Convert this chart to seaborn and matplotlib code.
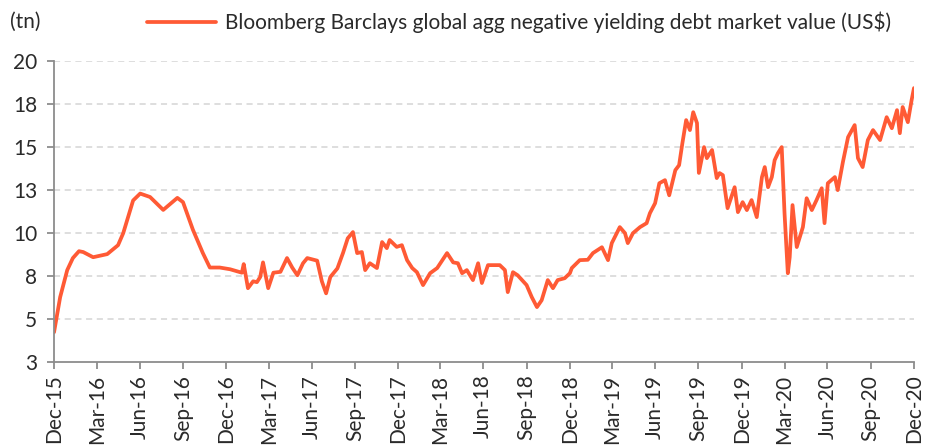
import pandas as pd
import seaborn as sns
import matplotlib.pyplot as plt
import matplotlib.dates as mdates

# values (US$ tn)
dates = [
    "2015-12-31", "2016-01-13", "2016-01-28", "2016-02-09", "2016-02-22", "2016-03-02",
    "2016-03-23", "2016-04-22", "2016-05-15", "2016-05-26", "2016-06-16", "2016-07-01",
    "2016-07-22", "2016-08-19", "2016-09-18", "2016-09-30", "2016-10-21", "2016-11-11",
    "2016-11-26", "2016-12-17", "2017-01-08", "2017-02-02", "2017-02-06", "2017-02-15",
    "2017-02-26", "2017-03-06", "2017-03-13", "2017-03-19", "2017-03-30", "2017-04-10",
    "2017-04-25", "2017-05-09", "2017-05-20", "2017-05-31", "2017-06-12", "2017-06-21",
    "2017-07-12", "2017-07-22", "2017-07-31", "2017-08-09", "2017-08-24", "2017-09-05",
    "2017-09-15", "2017-09-26", "2017-10-05", "2017-10-15", "2017-10-22", "2017-11-01",
    "2017-11-16", "2017-11-27", "2017-12-07", "2017-12-13", "2017-12-28", "2018-01-08",
    "2018-01-19", "2018-01-30", "2018-02-09", "2018-02-22", "2018-03-09", "2018-03-24",
    "2018-04-14", "2018-04-27", "2018-05-07", "2018-05-16", "2018-05-26", "2018-06-08",
    "2018-06-19", "2018-06-27", "2018-07-10", "2018-08-04", "2018-08-15", "2018-08-21",
    "2018-09-01", "2018-09-11", "2018-09-30", "2018-10-11", "2018-10-22", "2018-11-01",
    "2018-11-14", "2018-11-25", "2018-12-05", "2018-12-20", "2018-12-31", "2019-01-04",
    "2019-01-21", "2019-02-07", "2019-02-18", "2019-03-09", "2019-03-22", "2019-03-30",
    "2019-04-16", "2019-04-27", "2019-05-03", "2019-05-14", "2019-05-29", "2019-06-12",
    "2019-06-19", "2019-06-30", "2019-07-09", "2019-07-21", "2019-07-30", "2019-08-12",
    "2019-08-20", "2019-08-27", "2019-09-04", "2019-09-12", "2019-09-19", "2019-09-27",
    "2019-10-01", "2019-10-12", "2019-10-18", "2019-10-29", "2019-11-08", "2019-11-14",
    "2019-11-21", "2019-12-01", "2019-12-16", "2019-12-23", "2020-01-02", "2020-01-11",
    "2020-01-21", "2020-02-01", "2020-02-12", "2020-02-18", "2020-02-25", "2020-03-04",
    "2020-03-10", "2020-03-17", "2020-03-25", "2020-03-31", "2020-04-07", "2020-04-11",
    "2020-04-17", "2020-04-26", "2020-05-09", "2020-05-17", "2020-05-28", "2020-06-07",
    "2020-06-18", "2020-06-24", "2020-07-01", "2020-07-16", "2020-07-22", "2020-08-02",
    "2020-08-13", "2020-08-27", "2020-09-03", "2020-09-13", "2020-09-24", "2020-10-05",
    "2020-10-20", "2020-11-03", "2020-11-14", "2020-11-25", "2020-12-01", "2020-12-07",
    "2020-12-18", "2020-12-26", "2020-12-31",
]
market_value = [
    4.24, 6.28, 7.85, 8.55, 8.95, 8.9,
    8.6, 8.78, 9.3, 10.0, 11.9, 12.3,
    12.1, 11.35, 12.05, 11.8, 10.2, 8.85,
    8.0, 8.0, 7.9, 7.7, 8.2, 6.8,
    7.2, 7.15, 7.45, 8.3, 6.8, 7.7,
    7.75, 8.55, 8.0, 7.55, 8.25, 8.55,
    8.4, 7.2, 6.5, 7.45, 7.95, 8.85,
    9.7, 10.06, 8.84, 8.9, 7.85, 8.25,
    7.97, 9.48, 9.13, 9.6, 9.2, 9.3,
    8.43, 7.97, 7.73, 6.98, 7.67, 7.97,
    8.84, 8.3, 8.25, 7.67, 7.85, 7.27,
    8.25, 7.1, 8.14, 8.14, 7.85, 6.57,
    7.73, 7.55, 6.98, 6.28, 5.7, 6.1,
    7.27, 6.8, 7.27, 7.38, 7.67, 7.97,
    8.43, 8.45, 8.84, 9.18, 8.43, 9.42,
    10.35, 10.0, 9.42, 10.0, 10.35, 10.58,
    11.16, 11.74, 12.9, 13.08, 12.2, 13.66,
    13.95, 15.23, 16.57, 15.99, 17.03, 16.4,
    13.5, 15.0, 14.36, 14.83, 13.2, 13.49,
    13.37, 11.45, 12.67, 11.22, 11.8, 11.34,
    11.92, 10.93, 13.26, 13.84, 12.67, 13.26,
    14.24, 14.65, 15.0, 11.16, 7.67, 8.6,
    11.63, 9.19, 10.35, 12.03, 11.34, 11.92,
    12.61, 10.58, 12.9, 13.26, 12.5, 14.13,
    15.58, 16.28, 14.36, 13.84, 15.41, 15.99,
    15.41, 16.74, 16.1, 17.15, 15.81, 17.33,
    16.45, 17.73, 18.43,
]
y_ticks = [2.5, 5, 7.5, 10, 12.5, 15, 17.5, 20]
y_tick_labels = ["3", "5", "8", "10", "13", "15", "18", "20"]
series_name = "Bloomberg Barclays global agg negative yielding debt market value (US$)"

df = pd.DataFrame({"date": pd.to_datetime(dates), "value": market_value})

sns.set_style("white")
plt.rcParams["font.family"] = ["Lato", "DejaVu Sans"]

line_color = "#ff5a35"
axis_color = "#8c8c8c"
text_color = "#2a2a2a"
fsize = 15

fig = plt.figure(figsize=(9.35, 4.46), dpi=100)
ax = fig.add_axes([0.0578, 0.188, 0.9197, 0.675])

sns.lineplot(data=df, x="date", y="value", ax=ax, color=line_color, linewidth=2.7,
             label=series_name, legend=False)

ax.set_ylim(2.5, 20)
ax.set_yticks(y_ticks)
ax.set_yticklabels(y_tick_labels)
ax.set_xlim(pd.Timestamp("2015-12-31"), pd.Timestamp("2020-12-31"))
q_ticks = pd.date_range("2015-12-31", "2020-12-31", freq="QE")
ax.set_xticks(q_ticks)
ax.xaxis.set_major_formatter(mdates.DateFormatter("%b-%y"))
plt.setp(ax.get_xticklabels(), rotation=90, ha="center", va="top")

for yv in y_ticks[1:]:
    ax.axhline(yv, color="#d4d4d4", linewidth=1.1, linestyle=(0, (4, 3)), zorder=0)

for side in ["top", "right"]:
    ax.spines[side].set_visible(False)
for side in ["left", "bottom"]:
    ax.spines[side].set_color(axis_color)
    ax.spines[side].set_linewidth(1.3)

ax.tick_params(axis="both", direction="out", length=5, width=1.3, color=axis_color,
               labelsize=fsize, labelcolor=text_color, left=True, bottom=True)
ax.tick_params(axis="x", pad=4)
ax.tick_params(axis="y", pad=7)
ax.set_xlabel("")
ax.set_ylabel("")

fig.text(0.011, 0.95, "(tn)", fontsize=fsize, color=text_color, va="center")
fig.legend(*ax.get_legend_handles_labels(), loc="center left",
           bbox_to_anchor=(0.157, 0.95), frameon=False, fontsize=fsize,
           handlelength=3.3, handletextpad=0.45, borderaxespad=0, borderpad=0,
           labelcolor=text_color)

fig.savefig("out.png", dpi=100)
